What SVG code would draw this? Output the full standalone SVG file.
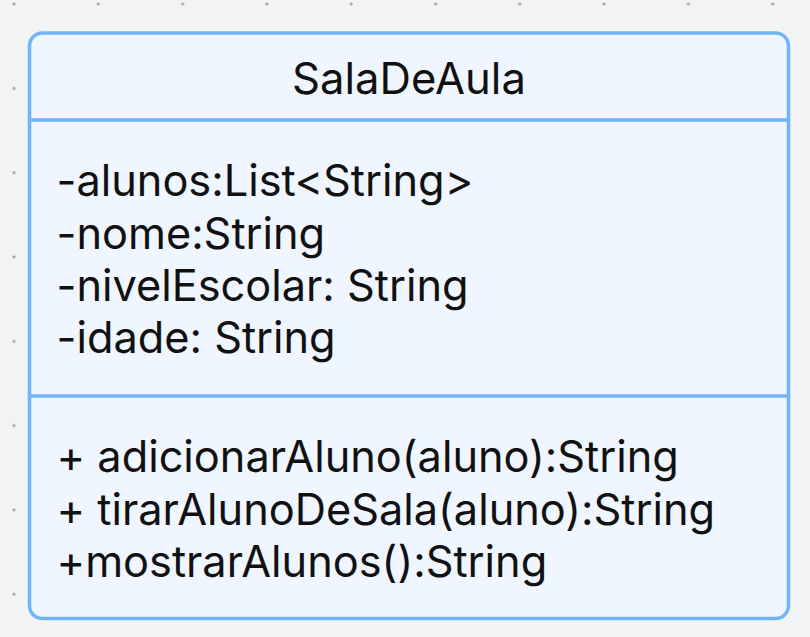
<svg xmlns="http://www.w3.org/2000/svg" width="810" height="637" viewBox="0 0 810 637">
  <defs>
    <pattern id="dots" x="14" y="4" width="84.3" height="84.3" patternUnits="userSpaceOnUse">
      <circle cx="0" cy="0" r="1.6" fill="#a3a5a8"/>
      <circle cx="84.3" cy="0" r="1.6" fill="#a3a5a8"/>
      <circle cx="0" cy="84.3" r="1.6" fill="#a3a5a8"/>
      <circle cx="84.3" cy="84.3" r="1.6" fill="#a3a5a8"/>
    </pattern>
    <style>
      .box { fill: #eff6ff; stroke: #72b4fb; stroke-width: 3.5; }
      .div { stroke: #72b4fb; stroke-width: 3.5; }
      .t { font-family: Inter, "Noto Sans", "Liberation Sans", sans-serif; font-size: 43.3px; fill: #111111; }
      .title { font-size: 43.6px; }
    </style>
  </defs>
  <rect x="0" y="0" width="810" height="637" fill="#f2f3f5"/>
  <rect x="0" y="0" width="810" height="637" fill="url(#dots)"/>
  <g id="SalaDeAula">
    <rect class="box" x="29.5" y="33" width="759" height="585.5" rx="13"/>
    <line class="div" x1="29.5" y1="120" x2="788.5" y2="120"/>
    <line class="div" x1="29.5" y1="396" x2="788.5" y2="396"/>
    <text class="t title" x="409" y="94" text-anchor="middle">SalaDeAula</text>
    <text class="t" x="56.5" y="196">-alunos:List&lt;String&gt;</text>
    <text class="t" x="56.5" y="248.5">-nome:String</text>
    <text class="t" x="56.5" y="301">-nivelEscolar: String</text>
    <text class="t" x="56.5" y="353.4">-idade: String</text>
    <text class="t" x="56.5" y="472">+ adicionarAluno(aluno):String</text>
    <text class="t" x="56.5" y="524.5">+ tirarAlunoDeSala(aluno):String</text>
    <text class="t" x="56.5" y="577">+mostrarAlunos():String</text>
  </g>
  <g id="connectors"/>
</svg>
